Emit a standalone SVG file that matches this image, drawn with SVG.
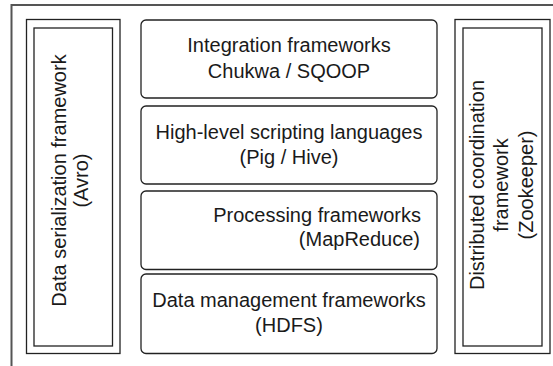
<svg xmlns="http://www.w3.org/2000/svg" width="553" height="366" viewBox="0 0 553 366">
<style>
  .frame { fill: none; stroke: #555; stroke-width: 2; }
  .box { fill: #fff; stroke: #222; stroke-width: 1.3; }
  .layer { fill: #fff; stroke: #222; stroke-width: 1.3; }
  text { font-family: "Liberation Sans", Arial, sans-serif; font-size: 20px; fill: #1a1a1a; }
  .c { text-anchor: middle; }
  .r { text-anchor: end; }
</style>
<rect width="553" height="366" fill="#fff"/>
<path class="frame" d="M11.5 366 V5 H553"/>
<g id="avro">
  <rect class="box" x="26.5" y="19.5" width="93.5" height="334"/>
  <rect class="box" x="34" y="28" width="78.5" height="318"/>
  <g transform="translate(0,180.5) rotate(-90)">
    <text class="c" x="0" y="65.5">Data serialization framework</text>
    <text class="c" x="0" y="88">(Avro)</text>
  </g>
</g>
<g id="integration">
  <rect class="layer" x="141" y="20" width="296" height="78" rx="5"/>
  <text class="c" x="289" y="52.3">Integration frameworks</text>
  <text class="c" x="289" y="78.3">Chukwa / SQOOP</text>
</g>
<g id="scripting">
  <rect class="layer" x="141" y="106" width="296" height="78" rx="5"/>
  <text class="c" x="289" y="138.5">High-level scripting languages</text>
  <text class="c" x="289" y="163.5">(Pig / Hive)</text>
</g>
<g id="processing">
  <rect class="layer" x="141" y="191" width="296" height="78.5" rx="5"/>
  <text class="r" x="421" y="222.3">Processing frameworks</text>
  <text class="r" x="420" y="246.3">(MapReduce)</text>
</g>
<g id="management">
  <rect class="layer" x="141" y="274" width="296" height="79.5" rx="5"/>
  <text class="c" x="289" y="306.7">Data management frameworks</text>
  <text class="c" x="289" y="331.7">(HDFS)</text>
</g>
<g id="zookeeper">
  <rect class="box" x="455" y="19.5" width="95" height="334"/>
  <rect class="box" x="463" y="28" width="79" height="318"/>
  <g transform="translate(0,185) rotate(-90)">
    <text class="c" x="0" y="483.5">Distributed coordination</text>
    <text class="c" x="0" y="508">framework</text>
    <text class="c" x="0" y="532.5">(Zookeeper)</text>
  </g>
</g>
<g id="connectors"></g>
</svg>
